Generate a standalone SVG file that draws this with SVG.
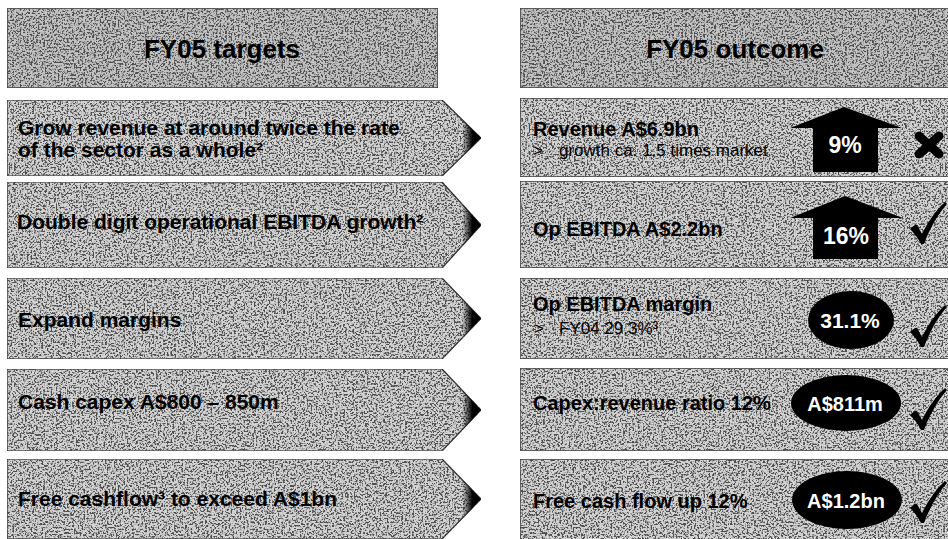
<svg xmlns="http://www.w3.org/2000/svg" width="948" height="539" viewBox="0 0 948 539">
<style>
.box{fill:#d4d4d4;stroke:#222;stroke-width:1.2;filter:url(#grain)}
.hdr{fill:#c4c4c4;stroke:#222;stroke-width:1.2;filter:url(#grain)}
.t{font-family:"Liberation Sans",Arial,sans-serif;font-weight:bold;fill:#000}
.h{font-size:26px;text-anchor:middle}
.l{font-size:21px}
.r{font-size:20px}
.s{font-family:"Liberation Sans",Arial,sans-serif;font-size:17px;fill:#000}
.w{font-family:"Liberation Sans",Arial,sans-serif;font-weight:bold;fill:#fff;text-anchor:middle}
.blk{fill:#000}
.tip{fill:url(#tipGrad)}
</style>
<defs>
<filter id="grain" x="0" y="0" width="1" height="1">
<feTurbulence type="fractalNoise" baseFrequency="0.55" numOctaves="2" seed="11" result="noise"/>
<feColorMatrix in="noise" type="matrix" values="0 0 0 0 0.08  0 0 0 0 0.08  0 0 0 0 0.08  6 0 0 0 -2.75" result="speck"/>
<feComposite in="speck" in2="SourceGraphic" operator="in" result="clipped"/>
<feMerge><feMergeNode in="SourceGraphic"/><feMergeNode in="clipped"/></feMerge>
</filter>
<linearGradient id="tipGrad" x1="0" y1="0" x2="1" y2="0">
<stop offset="0" stop-color="#000" stop-opacity="0"/>
<stop offset="0.55" stop-color="#000" stop-opacity="1"/>
<stop offset="1" stop-color="#000" stop-opacity="1"/>
</linearGradient>
<path id="tick" d="M0,27 C3,24 6,22 7,23 L12,32 C18,20 26,8 35,0 L37,2 C28,12 20,26 14,42 L11,42 C8,36 4,31 0,27 Z"/>
</defs>

<g id="header-targets">
<rect class="hdr" x="7" y="8" width="431" height="80"/>
<text class="t h" x="222" y="58">FY05 targets</text>
</g>
<g id="header-outcome">
<rect class="hdr" x="520" y="8" width="432" height="80"/>
<text class="t h" x="735" y="58">FY05 outcome</text>
</g>

<g id="target-1">
<path class="box" d="M7,100 L442,100 L481,138 L442,176 L7,176 Z"/>
<path class="tip" d="M462,119.5 L481,138 L462,156.5 Z"/>
<text class="t l" x="18" y="135">Grow revenue at around twice the rate</text>
<text class="t l" x="18" y="157">of the sector as a whole²</text>
</g>
<g id="target-2">
<path class="box" d="M7,182 L442,182 L481,225 L442,268 L7,268 Z"/>
<path class="tip" d="M462,204 L481,225 L462,246 Z"/>
<text class="t l" x="17" y="229">Double digit operational EBITDA growth²</text>
</g>
<g id="target-3">
<path class="box" d="M7,278 L442,278 L481,318.5 L442,359 L7,359 Z"/>
<path class="tip" d="M462,299 L481,318.5 L462,338 Z"/>
<text class="t l" x="18" y="327">Expand margins</text>
</g>
<g id="target-4">
<path class="box" d="M7,369 L442,369 L481,410 L442,451 L7,451 Z"/>
<path class="tip" d="M462,390 L481,410 L462,430 Z"/>
<text class="t l" x="18" y="409">Cash capex A$800 – 850m</text>
</g>
<g id="target-5">
<path class="box" d="M7,459 L442,459 L481,499 L442,539 L7,539 Z"/>
<path class="tip" d="M462,479.5 L481,499 L462,518.5 Z"/>
<text class="t l" x="18" y="506">Free cashflow³ to exceed A$1bn</text>
</g>

<g id="outcome-1">
<rect class="box" x="520" y="98" width="432" height="79"/>
<text class="t r" x="533" y="136">Revenue A$6.9bn</text>
<text class="s" y="156"><tspan x="533">&gt;</tspan><tspan x="559">growth ca. 1.5 times market</tspan></text>
<path class="blk" d="M790,128 L844,107 L902,128 L878,128 L878,172 L813,172 L813,128 Z"/>
<text class="w" x="845" y="153" font-size="23">9%</text>
<g stroke="#000" stroke-width="9" stroke-linecap="round">
<line x1="919" y1="136" x2="939" y2="154"/>
<line x1="939" y1="136" x2="919" y2="154"/>
</g>
</g>
<g id="outcome-2">
<rect class="box" x="520" y="181" width="432" height="87"/>
<text class="t r" x="533" y="236">Op EBITDA A$2.2bn</text>
<path class="blk" d="M790,218 L845,196 L903,218 L878,218 L878,259 L813,259 L813,218 Z"/>
<text class="w" x="846" y="244" font-size="23">16%</text>
<use href="#tick" x="910" y="202"/>
</g>
<g id="outcome-3">
<rect class="box" x="520" y="278" width="432" height="81"/>
<text class="t r" x="533" y="311">Op EBITDA margin</text>
<text class="s" y="334"><tspan x="534">&gt;</tspan><tspan x="559">FY04 29.3%³</tspan></text>
<ellipse class="blk" cx="851" cy="320" rx="43" ry="29"/>
<text class="w" x="850" y="328" font-size="21">31.1%</text>
<use href="#tick" x="910" y="305"/>
</g>
<g id="outcome-4">
<rect class="box" x="520" y="368" width="432" height="83"/>
<text class="t r" x="533" y="410">Capex:revenue ratio 12%</text>
<ellipse class="blk" cx="846" cy="403" rx="55" ry="28"/>
<text class="w" x="845" y="411" font-size="20">A$811m</text>
<use href="#tick" x="910" y="388"/>
</g>
<g id="outcome-5">
<rect class="box" x="520" y="459" width="432" height="81"/>
<text class="t r" x="533" y="508">Free cash flow up 12%</text>
<ellipse class="blk" cx="847" cy="500" rx="55" ry="29"/>
<text class="w" x="846" y="508" font-size="20">A$1.2bn</text>
<use href="#tick" x="910" y="481"/>
</g>
</svg>
